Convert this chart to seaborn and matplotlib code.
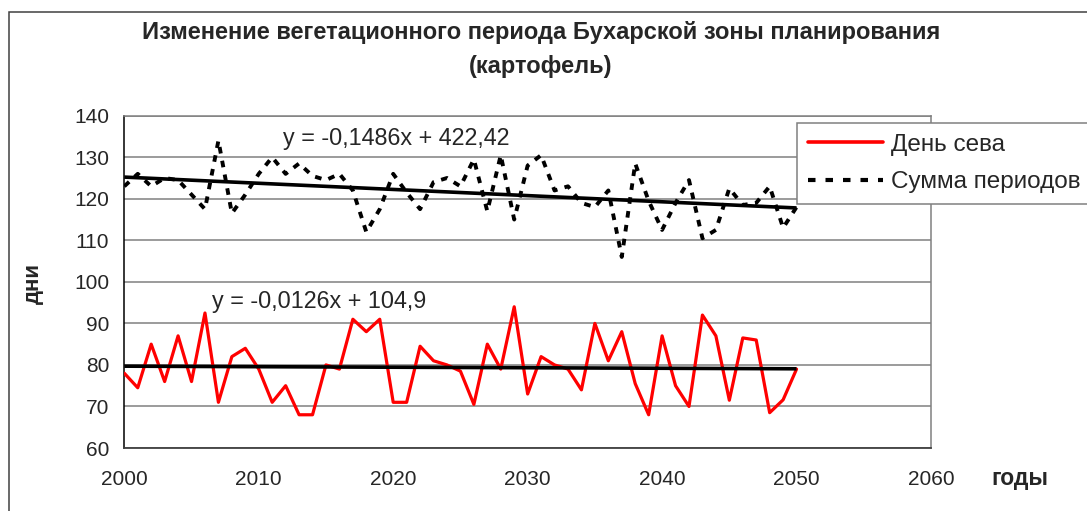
import numpy as np
import pandas as pd
import matplotlib
matplotlib.use("Agg")
import matplotlib.pyplot as plt
from matplotlib.patches import Rectangle
from matplotlib.lines import Line2D
import seaborn as sns

# ---- data ----
years = list(range(2000, 2051))
sowing_day = [78, 74.5, 85, 76, 87, 76, 92.5, 71, 82, 84,
              79, 71, 75, 68, 68, 80, 79, 91, 88, 91,
              71, 71, 84.5, 81, 80, 78.5, 70.5, 85, 79, 94,
              73, 82, 80, 79, 74, 90, 81, 88, 75.5, 68,
              87, 75, 70, 92, 87, 71.5, 86.5, 86, 68.5, 71.6,
              79]
period_sum = [123, 126, 123, 125, 124.5, 121, 117.5, 134, 116.5, 121,
              126, 130, 126, 128.5, 125.5, 124.5, 126, 122, 112, 117.5,
              126, 121.5, 117.5, 124, 125, 123, 129.5, 117, 130.5, 115,
              128, 130.5, 122, 123, 119, 118, 122, 106, 128.5, 119.5,
              112.5, 119, 124.5, 110.5, 112.5, 122.5, 118.5, 119, 123, 113,
              118]
trend_sum = (-0.1486, 422.42)
trend_sow = (-0.0126, 104.9)
eq_sum = "y = -0,1486x + 422,42"
eq_sow = "y = -0,0126x + 104,9"
series_names = ["День сева", "Сумма периодов"]
title_lines = ["Изменение вегетационного периода Бухарской зоны планирования", "(картофель)"]
y_label = "дни"
x_label = "годы"
x_ticks = [2000, 2010, 2020, 2030, 2040, 2050, 2060]
y_ticks = [60, 70, 80, 90, 100, 110, 120, 130, 140]

df = pd.DataFrame({"year": years, "sow": sowing_day, "sum": period_sum})

sns.set_style("white")
plt.rcParams["font.family"] = ["Liberation Sans", "DejaVu Sans"]

W, H = 1087, 511
fig = plt.figure(figsize=(W / 100, H / 100), dpi=100)
ax = fig.add_axes([124.3 / W, 1 - 448 / H, (931 - 124.3) / W, (448 - 115.7) / H])

grid_c = "#808080"
for v in y_ticks:
    ax.axhline(v, color=grid_c, lw=1.1, zorder=0)

sns.lineplot(data=df, x="year", y="sow", ax=ax, color="#ff0000", lw=2.3,
             solid_joinstyle="round", zorder=3)
sns.lineplot(data=df, x="year", y="sum", ax=ax, color="black", lw=2.8,
             linestyle=(0, (1.7, 1.9)), dash_capstyle="butt", zorder=3)

tx = np.array([years[0], years[-1]], dtype=float)
ax.plot(tx, trend_sum[0] * tx + trend_sum[1], color="black", lw=2.6, zorder=4,
        solid_capstyle="butt")
ax.plot(tx, trend_sow[0] * tx + trend_sow[1], color="black", lw=2.6, zorder=4,
        solid_capstyle="butt")

ax.text(2011.8, 134.6, eq_sum, fontsize=16.8, ha="left", va="center")
ax.text(2006.5, 95.3, eq_sow, fontsize=16.8, ha="left", va="center")

ax.set_xlim(2000, 2060)
ax.set_ylim(60, 140)
ax.set_xticks(x_ticks)
ax.set_yticks(y_ticks)
ax.set_xlabel("")
ax.set_ylabel("")
ax.tick_params(axis="both", which="major", direction="out", length=5, width=1.1,
               labelsize=15, color="#404040")
ax.tick_params(axis="x", pad=11)
ax.tick_params(axis="y", pad=6)
ax.spines["left"].set_color("black")
ax.spines["left"].set_linewidth(1.1)
ax.spines["bottom"].set_color("#404040")
ax.spines["bottom"].set_linewidth(1.3)
ax.spines["right"].set_color(grid_c)
ax.spines["right"].set_linewidth(1.1)
ax.spines["top"].set_color(grid_c)
ax.spines["top"].set_linewidth(1.1)
for s in ax.spines.values():
    s.set_visible(True)

# legend
handles = [Line2D([], [], color="#ff0000", lw=2.6),
           Line2D([], [], color="black", lw=3.0, linestyle=(0, (1.8, 2.4)), dash_capstyle="butt")]
leg = fig.legend(handles, series_names, loc="upper left",
                 bbox_to_anchor=(797 / W, 1 - 123 / H), fontsize=17.5,
                 frameon=True, fancybox=False, edgecolor=grid_c, framealpha=1,
                 handlelength=3.1, handletextpad=0.3, labelspacing=0.62,
                 borderpad=0.45, borderaxespad=0)
leg.get_frame().set_linewidth(1.1)

# titles and axis labels
fig.text(541 / W, 1 - 32 / H, title_lines[0], fontsize=17, fontweight="bold",
         ha="center", va="center")
fig.text(541 / W, 1 - 66 / H, title_lines[1], fontsize=17, fontweight="bold",
         ha="center", va="center")
fig.text(33 / W, 1 - 283 / H, y_label, fontsize=16, fontweight="bold",
         rotation=90, ha="center", va="center")
fig.text(1020 / W, 1 - 478 / H, x_label, fontsize=16.5, fontweight="bold",
         ha="center", va="center")

# outer chart border
fig.patches.append(Rectangle((8.7 / W, -0.05), 1.1, 1 - 12 / H + 0.05,
                             transform=fig.transFigure, fill=False,
                             edgecolor="#404040", lw=1.1, zorder=0))

fig.savefig("out.png", dpi=100)
